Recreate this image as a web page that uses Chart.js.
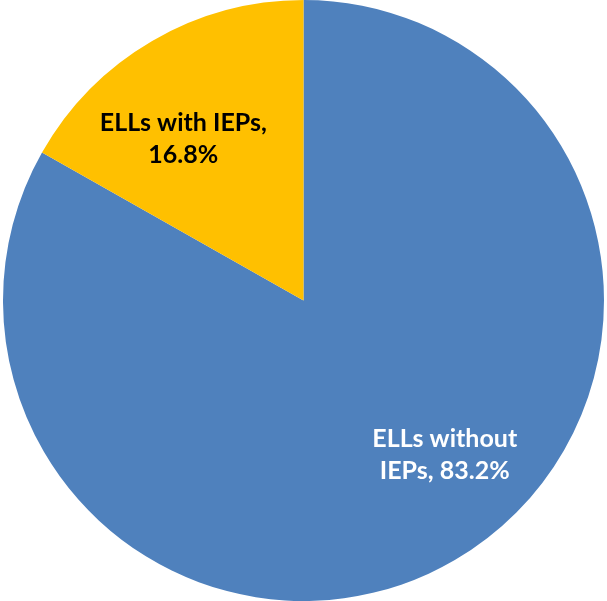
<!DOCTYPE html>
<html lang="en">
<head>
    <meta charset="UTF-8">
    <title>ELLs with and without IEPs</title>
    <script src="https://cdn.jsdelivr.net/npm/chart.js"></script>
    <style>
        html, body { margin: 0; padding: 0; background: #fff; }
        .wrap { width: 607px; height: 601px; }
    </style>
</head>
<body>
    <div class="wrap">
        <canvas id="pieChart" width="607" height="601"></canvas>
    </div>

    <script>
        // Data
        const categories = ['ELLs without IEPs', 'ELLs with IEPs'];
        const shares = [83.2, 16.8];
        const labelLines = [
            ['ELLs without', 'IEPs, 83.2%'],
            ['ELLs with IEPs,', '16.8%']
        ];

        const sliceColors = ['#4F81BD', '#FFC000'];
        const textColors = ['#FFFFFF', '#000000'];
        // label offset from pie centre, as a fraction of the radius
        const labelOffsets = [[0.47, 0.515], [-0.40, -0.537]];

        // Draws the data labels inside the slices
        const sliceLabels = {
            id: 'sliceLabels',
            afterDatasetsDraw(chart) {
                const ctx = chart.ctx;
                const arcs = chart.getDatasetMeta(0).data;
                ctx.save();
                ctx.font = 'bold 25px Lato, "Open Sans", sans-serif';
                ctx.textAlign = 'center';
                ctx.textBaseline = 'middle';
                arcs.forEach((arc, i) => {
                    const r = arc.outerRadius;
                    const cx = arc.x + labelOffsets[i][0] * r;
                    const cy = arc.y + labelOffsets[i][1] * r;
                    const lines = labelLines[i];
                    const lh = 32;
                    ctx.fillStyle = textColors[i];
                    lines.forEach((t, k) => {
                        ctx.fillText(t, cx, cy + (k - (lines.length - 1) / 2) * lh);
                    });
                });
                ctx.restore();
            }
        };

        new Chart(document.getElementById('pieChart'), {
            type: 'pie',
            data: {
                labels: categories,
                datasets: [{
                    data: shares,
                    backgroundColor: sliceColors,
                    borderWidth: 0
                }]
            },
            options: {
                responsive: false,
                animation: false,
                layout: { padding: 0 },
                plugins: {
                    legend: { display: false },
                    tooltip: { enabled: false }
                }
            },
            plugins: [sliceLabels]
        });
    </script>
</body>
</html>
